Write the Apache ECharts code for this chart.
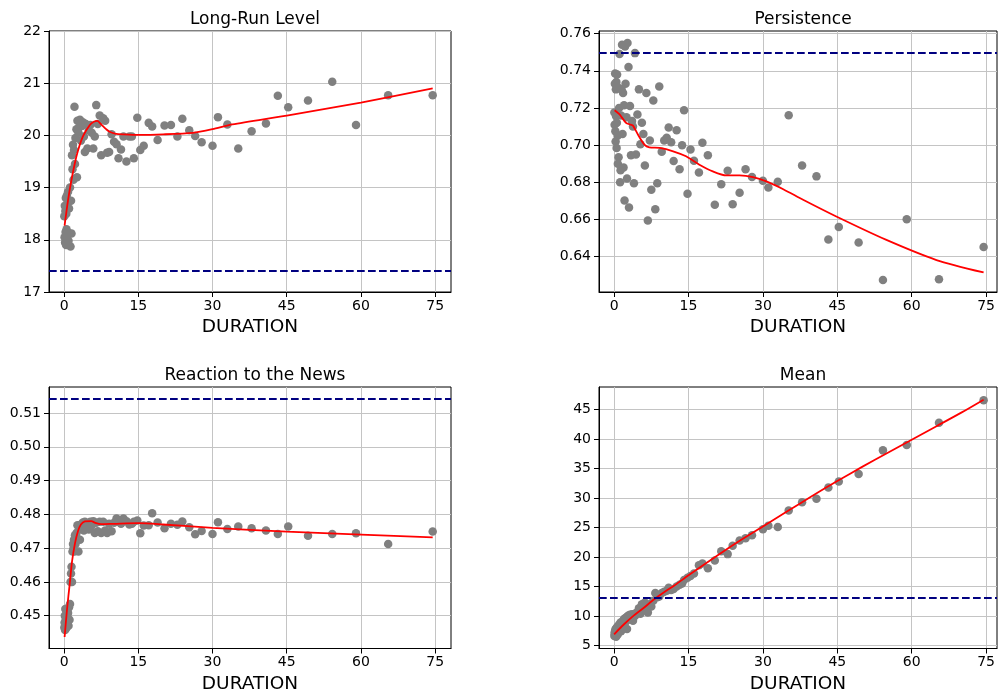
<!DOCTYPE html>
<html><head><meta charset="utf-8">
<script src="https://cdn.jsdelivr.net/npm/echarts@6/dist/echarts.min.js"></script>
<style>html,body{margin:0;padding:0;background:#fff}#c{width:998px;height:696px}</style>
</head><body><div id="c"></div>
<script>
const durations = [0.05,0.1,0.15,0.2,0.25,0.3,0.35,0.4,0.45,0.5,0.55,0.6,0.7,0.75,0.8,0.9,1.0,1.1,1.2,1.3,1.4,1.5,1.6,1.7,1.8,1.9,2.0,2.1,2.2,2.3,2.5,2.6,2.7,2.9,3.0,3.2,3.4,3.6,3.8,4.0,4.2,4.4,4.7,5.0,5.3,5.6,5.9,6.2,6.5,6.8,7.2,7.5,7.9,8.3,8.7,9.1,9.6,10.1,10.6,11.0,11.5,12.0,12.6,13.2,13.7,14.1,14.8,15.4,16.1,17.1,17.8,18.9,20.3,21.6,22.9,23.9,25.3,26.5,27.8,30.0,31.1,33.0,35.2,37.9,40.8,43.2,45.3,49.3,54.2,59.0,65.5,74.5];

const longRun = [18.45,18.05,18.65,17.95,18.55,18.15,18.80,17.90,18.50,18.20,18.85,18.00,18.70,18.10,18.92,17.98,18.60,18.12,19.00,17.87,18.75,18.12,19.62,19.35,19.82,19.15,19.72,20.55,19.45,19.95,20.12,19.20,20.28,20.05,20.15,20.30,19.90,20.18,20.25,19.98,19.68,20.22,19.75,20.10,20.20,20.05,19.75,19.98,20.58,20.22,20.38,19.62,20.33,20.28,19.67,19.68,20.02,19.88,19.83,19.56,19.73,19.98,19.50,19.98,19.98,19.56,20.34,19.72,19.80,20.24,20.17,19.91,20.19,20.20,19.98,20.32,20.10,19.99,19.87,19.80,20.35,20.21,19.75,20.08,20.23,20.76,20.54,20.67,21.03,20.20,20.77,20.77];

const persistence = [0.7175,0.7110,0.7330,0.7385,0.7075,0.7020,0.7300,0.7155,0.7340,0.6985,0.7120,0.7380,0.7050,0.6900,0.7310,0.6935,0.7200,0.7490,0.6800,0.6865,0.7160,0.7300,0.7540,0.7060,0.7280,0.6880,0.7215,0.6702,0.7530,0.7330,0.7150,0.6820,0.7550,0.7420,0.6665,0.7210,0.6945,0.7130,0.7100,0.6795,0.7495,0.6950,0.7165,0.7300,0.7005,0.7120,0.7060,0.6890,0.7280,0.6595,0.7025,0.6760,0.7240,0.6655,0.6795,0.7315,0.6965,0.7025,0.7040,0.7095,0.7015,0.6915,0.7080,0.6870,0.7000,0.7188,0.6738,0.6977,0.6916,0.6853,0.7013,0.6945,0.6679,0.6790,0.6862,0.6682,0.6744,0.6870,0.6828,0.6808,0.6772,0.6803,0.7161,0.6891,0.6832,0.6492,0.6560,0.6476,0.6274,0.6601,0.6279,0.6452];

const reaction = [0.4465,0.4480,0.4500,0.4458,0.4520,0.4470,0.4490,0.4462,0.4505,0.4478,0.4515,0.4468,0.4495,0.4482,0.4508,0.4470,0.4525,0.4488,0.4535,0.4600,0.4625,0.4645,0.4600,0.4690,0.4712,0.4700,0.4725,0.4690,0.4738,0.4712,0.4745,0.4730,0.4768,0.4690,0.4755,0.4725,0.4770,0.4760,0.4776,0.4752,0.4778,0.4762,0.4772,0.4755,0.4778,0.4768,0.4780,0.4745,0.4775,0.4750,0.4778,0.4745,0.4778,0.4752,0.4745,0.4772,0.4750,0.4775,0.4788,0.4778,0.4772,0.4788,0.4780,0.4770,0.4772,0.4778,0.4782,0.4744,0.4767,0.4768,0.4803,0.4776,0.4759,0.4772,0.4769,0.4779,0.4762,0.4741,0.4751,0.4742,0.4777,0.4757,0.4764,0.4759,0.4752,0.4742,0.4764,0.4737,0.4742,0.4744,0.4712,0.4749];

const meanVals = [6.6,7.2,6.9,7.5,6.7,7.8,7.1,6.5,7.4,8.0,7.0,7.6,8.2,6.9,7.8,8.4,7.5,8.6,8.0,8.9,7.4,8.7,9.0,8.3,9.2,8.6,9.5,8.9,9.6,9.0,9.8,7.8,9.9,10.1,9.4,10.2,9.6,10.3,9.2,10.3,10.0,10.5,10.5,11.3,10.4,12.0,11.0,12.3,11.5,10.6,12.0,11.6,12.6,13.9,13.2,13.3,13.9,14.1,14.3,14.8,14.4,14.6,15.0,15.3,15.5,16.1,16.5,16.8,17.2,18.6,18.9,18.1,19.4,21.0,20.5,21.9,22.8,23.2,23.7,24.7,25.3,25.1,27.9,29.3,29.9,31.8,32.8,34.1,38.1,39.0,42.8,46.6];

const fitLongRun = [[0.1,18.27],[0.8,18.76],[1.5,19.15],[2.5,19.6],[3.8,19.98],[5.2,20.2],[6.0,20.26],[6.7,20.28],[7.6,20.2],[8.5,20.12],[9.2,20.07],[10.5,20.03],[12,20.02],[15,20.01],[20,20.02],[26,20.05],[30,20.12],[34,20.21],[45,20.38],[60,20.63],[74.5,20.9]];
const fitPersistence = [[0.1,0.7188],[1.1,0.7165],[2.4,0.712],[3.3,0.711],[3.8,0.7105],[4.8,0.7057],[6.1,0.7003],[7.1,0.6988],[9.2,0.6985],[11.9,0.6967],[14.5,0.694],[17.2,0.6895],[19.9,0.6859],[22.6,0.6837],[25.3,0.6837],[28,0.6828],[30.7,0.6805],[34.1,0.6763],[38.1,0.6706],[44.8,0.6616],[54.9,0.649],[65,0.6382],[74.5,0.6315]];
const fitReaction = [[0.1,0.4437],[0.6,0.452],[1.15,0.4596],[1.6,0.466],[2.2,0.4714],[2.8,0.475],[3.4,0.4770],[4.2,0.4779],[5.5,0.4780],[6.3,0.4775],[7.5,0.4771],[10,0.4772],[15,0.4774],[20,0.4770],[30,0.4760],[45,0.4749],[60,0.4740],[74.5,0.4732]];
const fitMean = [[0,6.9],[2,8.6],[4,10.1],[6,11.4],[8,12.8],[10,14.0],[12,15.1],[15,16.9],[20,19.8],[25,22.6],[30,25.2],[35,27.8],[40,30.4],[45,32.9],[50,35.3],[55,37.6],[60,39.9],[65,42.2],[70,44.5],[74.5,46.7]];

const refLongRun = 17.41, refPersistence = 0.7497, refReaction = 0.5142, refMean = 13.15;

const xTicks = [0,15,30,45,60,75];
const yTicksLongRun = [17,18,19,20,21,22];
const yTicksPersistence = [0.64,0.66,0.68,0.70,0.72,0.74,0.76];
const yTicksReaction = [0.45,0.46,0.47,0.48,0.49,0.50,0.51];
const yTicksMean = [5,10,15,20,25,30,35,40,45];

const titles = ['Long-Run Level','Persistence','Reaction to the News','Mean'];

const FONT = 'DejaVu Sans';
const panels = [
  {ys:longRun, fit:fitLongRun, ref:refLongRun, ymin:17, ymax:22, yt:yTicksLongRun, dec:0, g:{left:49,top:31,width:402,height:261}, xmax:78.2},
  {ys:persistence, fit:fitPersistence, ref:refPersistence, ymin:0.621, ymax:0.7614, yt:yTicksPersistence, dec:2, g:{left:599,top:31,width:398,height:261}, xmax:77.2},
  {ys:reaction, fit:fitReaction, ref:refReaction, ymin:0.4403, ymax:0.5177, yt:yTicksReaction, dec:2, g:{left:49,top:387,width:402,height:261.5}, xmax:78.2},
  {ys:meanVals, fit:fitMean, ref:refMean, ymin:4.49, ymax:48.85, yt:yTicksMean, dec:0, g:{left:599,top:387,width:398,height:261.5}, xmax:77.2}
];

const chart = echarts.init(document.getElementById('c'), null, {renderer:'canvas'});
const option = {
  animation:false,
  backgroundColor:'#fff',
  title: panels.map((p,i)=>({
    text: titles[i], left: p.g.left + p.g.width/2, top: p.g.top - 25, textAlign:'center',
    textStyle:{fontSize:17, fontWeight:'normal', fontFamily:FONT, color:'#000'}
  })),
  grid: panels.map(p=>Object.assign({show:true, borderColor:'#000', borderWidth:1, backgroundColor:'transparent', containLabel:false}, p.g)),
  xAxis: panels.map((p,i)=>({
    gridIndex:i, type:'value', min:-3.05, max:p.xmax,
    axisLine:{show:true, onZero:false, lineStyle:{color:'#000', width:1}},
    axisTick:{show:true, length:5, customValues:xTicks, lineStyle:{color:'#000', width:1}},
    axisLabel:{customValues:xTicks, color:'#000', fontSize:14, margin:7, fontFamily:FONT},
    splitLine:{show:true, lineStyle:{color:'#c4c4c4', width:1}},
    name:'DURATION', nameLocation:'middle', nameGap:26,
    nameTextStyle:{fontSize:18.5, color:'#000', fontFamily:FONT}
  })),
  yAxis: panels.map((p,i)=>({
    gridIndex:i, type:'value', min:p.ymin, max:p.ymax,
    axisLine:{show:true, onZero:false, lineStyle:{color:'#000', width:1}},
    axisTick:{show:true, length:5, customValues:p.yt, lineStyle:{color:'#000', width:1}},
    axisLabel:{customValues:p.yt, color:'#000', fontSize:14, margin:8, fontFamily:FONT,
      formatter:(v)=>Number(v).toFixed(p.dec)},
    splitLine:{show:true, lineStyle:{color:'#c4c4c4', width:1}}
  })),
  series: []
};
panels.forEach((p,i)=>{
  option.series.push({
    type:'scatter', xAxisIndex:i, yAxisIndex:i,
    data: durations.map((x,k)=>[x, p.ys[k]]),
    symbolSize:8.5, itemStyle:{color:'#808080', opacity:1}, z:2,
    markLine:{silent:true, precision:6, symbol:['none','none'], label:{show:false},
      lineStyle:{color:'#000080', type:[7.7,3.3], width:1.8},
      data:[{yAxis:p.ref}]}
  });
  option.series.push({
    type:'line', xAxisIndex:i, yAxisIndex:i, data:p.fit, showSymbol:false, smooth:0.25,
    lineStyle:{color:'#ff0000', width:1.8}, itemStyle:{color:'#ff0000'}, z:3
  });
});
chart.setOption(option);
</script></body></html>
